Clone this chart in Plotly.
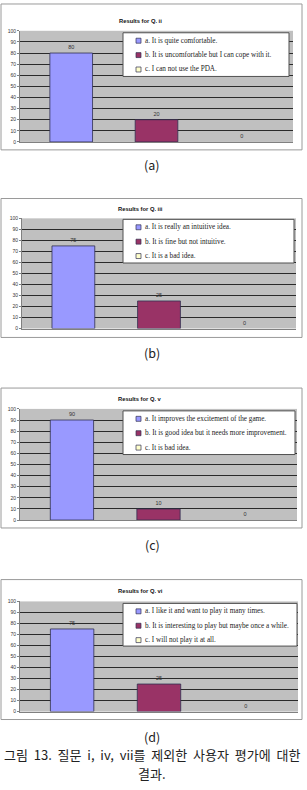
import plotly.graph_objects as go

W, H = 307, 790

titles = ["Results for Q. ii", "Results for Q. iii", "Results for Q. v", "Results for Q. vi"]
captions = ["(a)", "(b)", "(c)", "(d)"]
answer_keys = ["a", "b", "c"]
answers_a = [80, 75, 90, 75]
answers_b = [20, 25, 10, 25]
answers_c = [0, 0, 0, 0]
legend_labels = [
    ["a. It is quite comfortable.", "b. It is uncomfortable but I can cope with it.", "c. I can not use the PDA."],
    ["a. It is really an intuitive idea.", "b. It is fine but not intuitive.", "c. It is a bad idea."],
    ["a. It improves the excitement of the game.", "b. It is good idea but it needs more improvement.", "c. It is bad idea."],
    ["a. I like it and want to play it many times.", "b. It is interesting to play but maybe once a while.", "c. I will not play it at all."],
]
y_ticks = [0, 10, 20, 30, 40, 50, 60, 70, 80, 90, 100]
figure_caption_1 = "그림 13. 질문 i, iv, vii를 제외한 사용자 평가에 대한"
figure_caption_2 = "결과."

colors = ["#9999FF", "#993366", "#FFFFCC"]

# layout geometry in pixels (top, bottom, left, right of plot area; chart frame; legend box)
plot_px = [(28, 140, 20, 293), (217, 328, 22, 296), (409, 521, 20, 297), (603, 714, 20, 298)]
frame_px = [(1, 148), (197, 337), (388, 529), (581, 722)]
title_px = [18, 208, 399, 592]
legend_px = [(30, 74, 123, 289), (218, 262, 123, 294), (411, 455, 123, 295), (605, 648, 123, 297)]
caption_px = [163, 352, 546, 739]


def fx(px):
    return px / W


def fy(py):
    return 1 - py / H


def wide(s):
    # justified-looking caption: widen the word gaps
    return s.replace(" ", "\u00a0\u00a0")


fig = go.Figure()
series = [answers_a, answers_b, answers_c]
shapes = []
annotations = []

for i in range(4):
    ax = "" if i == 0 else str(i + 1)
    for k in range(3):
        v = series[k][i]
        fig.add_trace(go.Bar(
            x=[answer_keys[k]], y=[v],
            marker=dict(color=colors[k],
                        line=dict(color="#303050", width=[0.8 if v > 0 else 0])),
            width=0.5,
            text=[str(v)], textposition="outside",
            textfont=dict(size=5.5, color="#333333", family="Liberation Sans"),
            cliponaxis=False,
            xaxis="x" + ax, yaxis="y" + ax, showlegend=False,
        ))
    t, b, l, r = plot_px[i]
    fig.update_layout(**{
        "xaxis" + ax: dict(domain=[fx(l), fx(r)], anchor="y" + ax, type="category",
                           categoryorder="array", categoryarray=answer_keys,
                           range=[-0.6, 2.6], showticklabels=False, ticks="",
                           showgrid=False, zeroline=False, showline=True,
                           linecolor="#808080", linewidth=1),
        "yaxis" + ax: dict(domain=[fy(b), fy(t)], anchor="x" + ax, range=[0, 100],
                           tickvals=y_ticks, showgrid=True, gridcolor="#2a2a2a",
                           gridwidth=1, zeroline=False, showline=True,
                           linecolor="#808080", linewidth=1, ticks="outside",
                           ticklen=2, tickcolor="#808080",
                           tickfont=dict(size=5, color="#333333", family="Liberation Sans")),
    })
    # chart frame
    ft, fb = frame_px[i]
    shapes.append(dict(type="rect", xref="paper", yref="paper", x0=fx(1), x1=fx(302),
                       y0=fy(fb), y1=fy(ft), line=dict(color="#9a9a9a", width=1),
                       fillcolor="rgba(0,0,0,0)", layer="below"))
    # title
    annotations.append(dict(text="<b>" + titles[i] + "</b>", x=fx(140), y=fy(title_px[i]),
                            xref="paper", yref="paper", showarrow=False,
                            xanchor="center", yanchor="middle",
                            font=dict(size=5.8, family="Liberation Sans", color="#111111")))
    # legend box
    lt, lb, ll, lr = legend_px[i]
    shapes.append(dict(type="rect", xref="paper", yref="paper", x0=fx(ll), x1=fx(lr),
                       y0=fy(lb), y1=fy(lt), line=dict(color="#505050", width=1),
                       fillcolor="white"))
    for k in range(3):
        ry = lt + 8 + k * 14.5
        shapes.append(dict(type="rect", xref="paper", yref="paper", x0=fx(136), x1=fx(141),
                           y0=fy(ry + 2.5), y1=fy(ry - 2.5),
                           line=dict(color="#303050", width=0.7), fillcolor=colors[k]))
        annotations.append(dict(text=legend_labels[i][k], x=fx(143), y=fy(ry),
                                xref="paper", yref="paper", showarrow=False,
                                xanchor="left", yanchor="middle",
                                font=dict(size=7.2, family="Liberation Serif", color="#222222")))
    # caption
    annotations.append(dict(text=captions[i], x=fx(152), y=fy(caption_px[i]),
                            xref="paper", yref="paper", showarrow=False,
                            xanchor="center", yanchor="middle",
                            font=dict(size=12.5, family="Noto Sans CJK KR", color="#222222")))

annotations.append(dict(text=wide(figure_caption_1), x=fx(152), y=fy(757), xref="paper", yref="paper",
                        showarrow=False, xanchor="center", yanchor="middle",
                        font=dict(size=13, family="Noto Sans CJK KR", color="#222222")))
annotations.append(dict(text=figure_caption_2, x=fx(152), y=fy(776), xref="paper", yref="paper",
                        showarrow=False, xanchor="center", yanchor="middle",
                        font=dict(size=13, family="Noto Sans CJK KR", color="#222222")))

fig.update_layout(
    width=W, height=H, margin=dict(l=0, r=0, t=0, b=0),
    paper_bgcolor="white", plot_bgcolor="#c0c0c0",
    barmode="overlay", showlegend=False,
    shapes=shapes, annotations=annotations,
)

fig.write_html("out.html")
